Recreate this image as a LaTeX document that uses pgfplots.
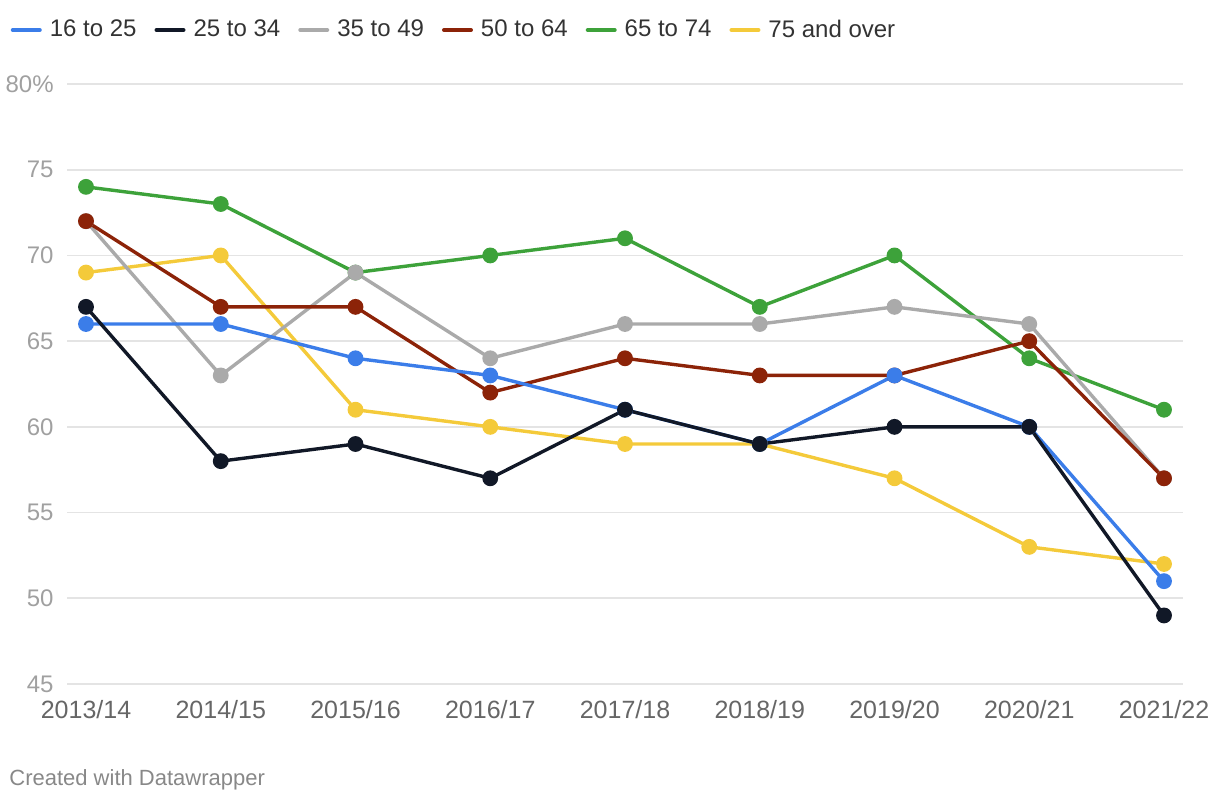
\documentclass[border=0pt]{standalone}
\usepackage{fontspec}
\setmainfont{Liberation Sans}
\usepackage{pgfplots}
\pgfplotsset{compat=1.18}
\definecolor{cblue}{HTML}{3B7DE9}
\definecolor{cblack}{HTML}{111827}
\definecolor{cgray}{HTML}{AAAAAA}
\definecolor{cred}{HTML}{8C2308}
\definecolor{cgreen}{HTML}{3DA23A}
\definecolor{cyellow}{HTML}{F4CA3A}
\definecolor{cgrid}{HTML}{E4E4E4}
\definecolor{cxlab}{HTML}{666666}
\definecolor{cylab}{HTML}{A0A0A0}
\definecolor{cleg}{HTML}{333333}
\definecolor{ccred}{HTML}{888888}
\begin{document}
\begin{tikzpicture}
\path[use as bounding box] (0,0) rectangle (610pt,400pt);
\begin{axis}[
  at={(33.5pt,58pt)}, anchor=south west,
  scale only axis, width=558pt, height=300pt,
  xmin=-0.141, xmax=8.141, ymin=45, ymax=80,
  xtick={0,...,8},
  xticklabels={2013/14,2014/15,2015/16,2016/17,2017/18,2018/19,2019/20,2020/21,2021/22},
  ytick={45,50,...,80},
  yticklabels={45,50,55,60,65,70,75,80\%},
  ymajorgrids, grid style={color=cgrid, line width=0.8pt},
  axis line style={draw=none},
  major tick length=0pt,
  xticklabel style={font=\fontsize{12.5}{14}\selectfont, text=cxlab, anchor=base, yshift=-17pt, inner sep=0pt},
  yticklabel style={font=\fontsize{12}{14}\selectfont, text=cylab, anchor=east, inner sep=0pt, xshift=-6.5pt},
  clip=false,
  legend columns=6,
  legend image code/.code={\draw[line width=2pt, line cap=round] (1pt,0pt)--(14.5pt,0pt); \path (0pt,0pt) (19.3pt,0pt);},
  legend style={at={(axis description cs:-0.0511,1.09)}, anchor=west, draw=none, fill=none, inner sep=0pt,
    font=\fontsize{12}{14}\selectfont, text=cleg,
    nodes={inner sep=0pt},
    /tikz/every even column/.append style={column sep=8.8pt}},
  legend cell align=left,
]
\addlegendimage{cblue}\addlegendentry{16 to 25}
\addlegendimage{cblack}\addlegendentry{25 to 34}
\addlegendimage{cgray}\addlegendentry{35 to 49}
\addlegendimage{cred}\addlegendentry{50 to 64}
\addlegendimage{cgreen}\addlegendentry{65 to 74}
\addlegendimage{cyellow}\addlegendentry{75 and over}
% 75 and over
\addplot[forget plot, color=cyellow, line width=1.7pt, mark=*, mark size=3.1pt, mark options={solid}]
 coordinates {(0,69)(1,70)(2,61)(3,60)(4,59)(5,59)(6,57)(7,53)(8,52)};
% 65 to 74
\addplot[forget plot, color=cgreen, line width=1.7pt, mark=*, mark size=3.1pt]
 coordinates {(0,74)(1,73)(2,69)(3,70)(4,71)(5,67)(6,70)(7,64)(8,61)};
% 35 to 49
\addplot[forget plot, color=cgray, line width=1.7pt, mark=*, mark size=3.1pt]
 coordinates {(0,72)(1,63)(2,69)(3,64)(4,66)(5,66)(6,67)(7,66)(8,57)};
% 50 to 64
\addplot[forget plot, color=cred, line width=1.7pt, mark=*, mark size=3.1pt]
 coordinates {(0,72)(1,67)(2,67)(3,62)(4,64)(5,63)(6,63)(7,65)(8,57)};
% 16 to 25
\addplot[forget plot, color=cblue, line width=1.7pt, mark=*, mark size=3.1pt]
 coordinates {(0,66)(1,66)(2,64)(3,63)(4,61)(5,59)(6,63)(7,60)(8,51)};
% 25 to 34
\addplot[forget plot, color=cblack, line width=1.7pt, mark=*, mark size=3.1pt]
 coordinates {(0,67)(1,58)(2,59)(3,57)(4,61)(5,59)(6,60)(7,60)(8,49)};
\end{axis}
\node[anchor=base west, inner sep=0pt, font=\fontsize{11}{13}\selectfont, text=ccred] at (4.5pt,7.5pt) {Created with Datawrapper};
\end{tikzpicture}
\end{document}
